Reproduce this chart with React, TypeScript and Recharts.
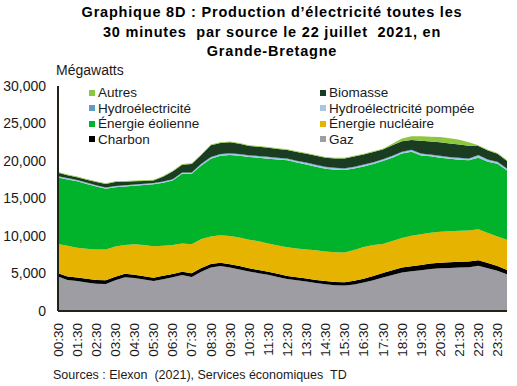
import React from "react";
import { AreaChart, Area, XAxis, YAxis } from "recharts";

const times = [
  "00:30","01:00","01:30","02:00","02:30","03:00","03:30","04:00","04:30","05:00",
  "05:30","06:00","06:30","07:00","07:30","08:00","08:30","09:00","09:30","10:00",
  "10:30","11:00","11:30","12:00","12:30","13:00","13:30","14:00","14:30","15:00",
  "15:30","16:00","16:30","17:00","17:30","18:00","18:30","19:00","19:30","20:00",
  "20:30","21:00","21:30","22:00","22:30","23:00","23:30","00:00",
];

const gaz = [
  4600,4150,4000,3800,3650,3600,4100,4500,4400,4200,
  4000,4250,4500,4800,4550,5250,5800,6000,5800,5550,
  5270,5050,4820,4550,4280,4100,3930,3750,3570,3450,
  3400,3550,3790,4100,4460,4800,5130,5300,5440,5600,
  5710,5750,5800,5850,6030,5700,5360,4910,
];
const charbon = [
  450,450,480,500,500,500,480,470,450,450,
  450,450,450,450,480,480,470,450,450,450,
  430,420,420,420,400,400,400,400,420,430,
  450,480,520,560,600,640,660,680,700,720,
  740,750,760,760,740,700,650,560,
];
const nucleaire = [
  3900,4100,3970,4000,4050,4100,4020,3830,4050,4150,
  4200,4000,3850,3750,3870,3870,3680,3650,3750,3800,
  3800,3830,3760,3780,3820,3850,3870,3950,3960,3970,
  3950,4120,4240,4140,3890,3910,3960,4070,4110,4130,
  4130,4150,4140,4140,4130,4000,3940,4030,
];
const eolienne = [
  8850,8850,8850,8650,8400,8100,7900,7800,7800,8000,
  8250,8400,8600,9300,9400,9800,10350,10600,10800,10900,
  11030,11120,11310,11450,11590,11450,11350,11150,11020,11000,
  11000,10850,10730,10800,11040,11100,11250,11200,10500,10170,
  9860,9650,9470,9350,9540,9500,9690,9250,
];
const hydroPompee = [
  100,100,100,100,100,100,100,100,100,100,
  100,100,100,100,100,150,150,150,150,150,
  150,150,150,150,150,150,150,150,150,150,
  150,150,150,150,150,150,150,150,150,150,
  150,150,150,150,250,200,150,150,
];
const hydro = [
  80,80,80,80,80,80,80,80,80,80,
  80,80,80,80,80,100,100,100,100,100,
  100,100,100,100,100,100,100,100,100,100,
  100,100,100,100,100,100,100,100,100,100,
  100,100,100,100,100,100,100,100,
];
const biomasse = [
  470,370,370,370,420,470,520,470,420,370,
  320,620,1020,1020,1120,1150,1550,1450,1450,1350,
  1220,1230,1210,1150,1120,1150,1160,1200,1210,1250,
  1290,1350,1350,1350,1310,1400,1390,1300,1700,1730,
  1820,1800,1780,1700,1200,1200,1070,990,
];
const autres = [
  100,100,100,100,100,100,100,100,100,100,
  100,100,100,100,100,100,100,100,100,100,
  100,100,100,100,100,100,100,100,100,100,
  100,100,100,100,100,200,350,500,600,650,
  700,700,650,450,100,100,100,100,
];

const yTicks = [0, 5000, 10000, 15000, 20000, 25000, 30000];

const series = [
  { key: "gaz", name: "Gaz", color: "#9e9da3", values: gaz },
  { key: "charbon", name: "Charbon", color: "#000000", values: charbon },
  { key: "nucleaire", name: "Énergie nucléaire", color: "#e6b400", values: nucleaire },
  { key: "eolienne", name: "Énergie éolienne", color: "#00b32a", values: eolienne },
  { key: "hydroPompee", name: "Hydroélectricité pompée", color: "#a7c6e3", values: hydroPompee },
  { key: "hydro", name: "Hydroélectricité", color: "#5e9bc7", values: hydro },
  { key: "biomasse", name: "Biomasse", color: "#1a3d22", values: biomasse },
  { key: "autres", name: "Autres", color: "#8dc63f", values: autres },
];

const legendCol1 = ["autres", "hydro", "eolienne", "charbon"];
const legendCol2 = ["biomasse", "hydroPompee", "nucleaire", "gaz"];

const data = times.map((t, i) => {
  const row: any = { t };
  series.forEach((s) => {
    row[s.key] = s.values[i];
  });
  return row;
});

const FONT = "'Liberation Sans', Arial, sans-serif";

const XTick = (props: any) => {
  const { x, y, payload } = props;
  const yy = y + 4;
  return (
    <text
      x={x}
      y={yy}
      transform={`rotate(-90, ${x}, ${yy})`}
      textAnchor="end"
      dy="0.35em"
      fontSize={13.5}
      fill="#1a1a1a"
      fontFamily={FONT}
    >
      {payload.value}
    </text>
  );
};

const fmt = (v: number) => v.toLocaleString("en-US");

const LegendCol = ({ keys, left }: { keys: string[]; left: number }) => (
  <div style={{ position: "absolute", left, top: 85 }}>
    {keys.map((k) => {
      const s = series.find((x) => x.key === k)!;
      return (
        <div
          key={k}
          style={{ display: "flex", alignItems: "center", height: 15.5, fontSize: 13.5, color: "#1a1a1a", whiteSpace: "nowrap" }}
        >
          <span style={{ display: "inline-block", width: 6, height: 6, background: s.color, marginRight: 3 }} />
          {s.name}
        </div>
      );
    })}
  </div>
);

export default function App() {
  return (
    <div style={{ position: "absolute", left: 0, top: 0, width: 517, height: 386, background: "#fff", fontFamily: FONT }}>
      <div
        style={{
          position: "absolute",
          left: 40,
          width: 464,
          top: 3,
          textAlign: "center",
          fontWeight: "bold",
          fontSize: 14.5,
          letterSpacing: 0.8,
          lineHeight: "19.5px",
          color: "#000",
          whiteSpace: "pre",
        }}
      >
        {"Graphique 8D : Production d’électricité toutes les\n30 minutes  par source le 22 juillet  2021, en\nGrande-Bretagne"}
      </div>
      <div style={{ position: "absolute", left: 56, top: 62, fontSize: 14, color: "#1a1a1a" }}>Mégawatts</div>
      <AreaChart
        width={517}
        height={386}
        data={data}
        margin={{ top: 86, right: 10, bottom: 25, left: 8 }}
      >
        <XAxis
          dataKey="t"
          interval={1}
          tickLine={false}
          axisLine={{ stroke: "#1e2418", strokeWidth: 2 }}
          tick={<XTick />}
          height={50}
        />
        <YAxis
          domain={[0, 30000]}
          ticks={yTicks}
          tickFormatter={fmt}
          tickLine={false}
          axisLine={{ stroke: "#1e2418", strokeWidth: 2 }}
          tickMargin={6}
          width={50}
          tick={{ fontSize: 14, fill: "#1a1a1a", fontFamily: FONT }}
          allowDataOverflow
        />
        {series.map((s) => (
          <Area
            key={s.key}
            dataKey={s.key}
            name={s.name}
            stackId="1"
            type="linear"
            fill={s.color}
            fillOpacity={1}
            stroke="none"
            isAnimationActive={false}
          />
        ))}
      </AreaChart>
      <LegendCol keys={legendCol1} left={89} />
      <LegendCol keys={legendCol2} left={320} />
      <div style={{ position: "absolute", left: 53, top: 368, fontSize: 12.5, color: "#1a1a1a", whiteSpace: "pre" }}>
        {"Sources : Elexon  (2021), Services économiques  TD"}
      </div>
    </div>
  );
}
